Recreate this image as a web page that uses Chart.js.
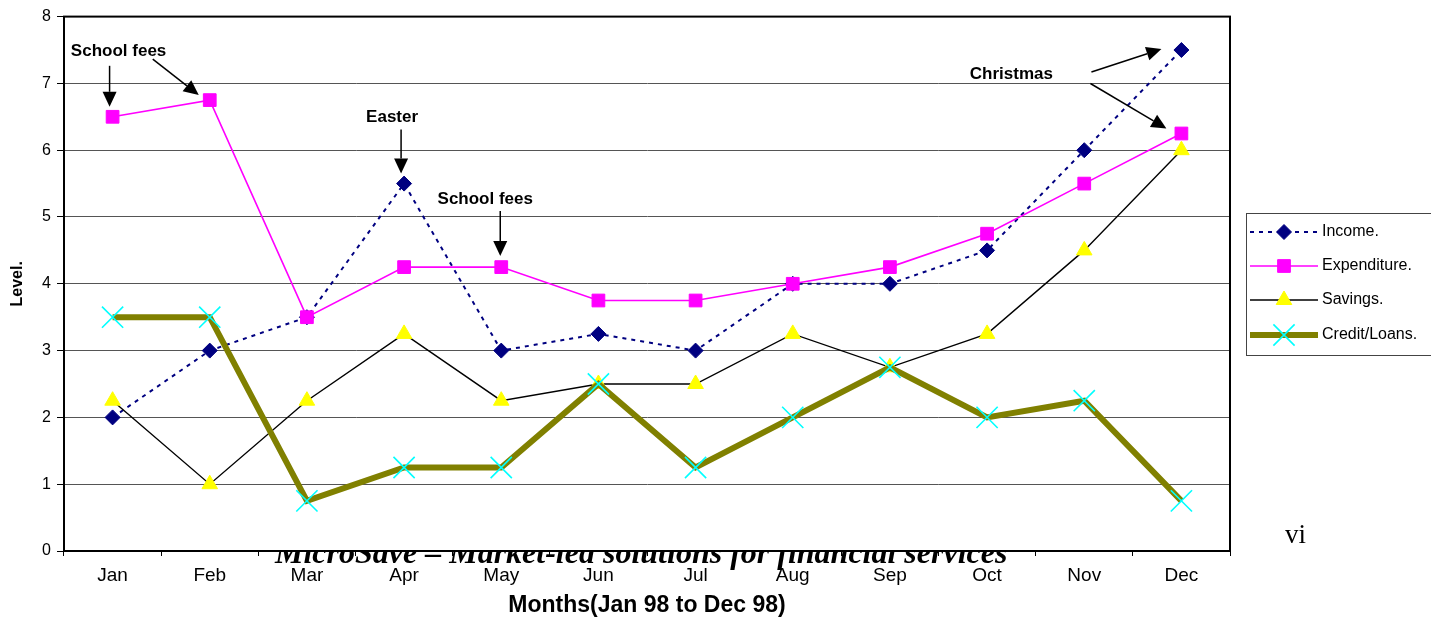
<!DOCTYPE html>
<html>
<head>
<meta charset="utf-8">
<script src="https://cdn.jsdelivr.net/npm/chart.js@4/dist/chart.umd.min.js"></script>
<style>
  html, body { margin: 0; padding: 0; background: #fff; }
  #wrap { width: 1431px; height: 621px; position: relative; }
</style>
</head>
<body>
<div id="wrap"><canvas id="c" width="1431" height="621"></canvas></div>
<script>
// Monthly household cash-flow levels, Jan 98 – Dec 98
const months = ['Jan', 'Feb', 'Mar', 'Apr', 'May', 'Jun', 'Jul', 'Aug', 'Sep', 'Oct', 'Nov', 'Dec'];
const income      = [2, 3, 3.5, 5.5, 3, 3.25, 3, 4, 4, 4.5, 6, 7.5];
const expenditure = [6.5, 6.75, 3.5, 4.25, 4.25, 3.75, 3.75, 4, 4.25, 4.75, 5.5, 6.25];
const savings     = [2.25, 1, 2.25, 3.25, 2.25, 2.5, 2.5, 3.25, 2.75, 3.25, 4.5, 6];
const credit      = [3.5, 3.5, 0.75, 1.25, 1.25, 2.5, 1.25, 2, 2.75, 2, 2.25, 0.75];
const seriesNames = ['Income.', 'Expenditure.', 'Savings.', 'Credit/Loans.'];
const yMin = 0, yMax = 8, yStep = 1;
const xTitle = 'Months(Jan 98 to Dec 98)';
const yTitle = 'Level.';
const footerText = 'MicroSave \u2013 Market-led solutions for financial services';
const pageNumber = 'vi';

// Event notes: each arrow points at one series value (dataset index, month index)
const notes = [
  { text: 'School fees', anchor: [1, 0], label: [6, -65],
    arrows: [ { ds: 1, m: 0, tip: [-3, -10], tail: [-3, -51] },
              { ds: 1, m: 1, tip: [-11, -5], tail: [-57, -41] } ] },
  { text: 'Easter', anchor: [0, 3], label: [-12, -66],
    arrows: [ { ds: 0, m: 3, tip: [-3, -10], tail: [-3, -54] } ] },
  { text: 'School fees', anchor: [1, 4], label: [-16, -68],
    arrows: [ { ds: 1, m: 4, tip: [-1, -11], tail: [-1, -56] } ] },
  { text: 'Christmas', anchor: [0, 11], label: [-170, 24],
    arrows: [ { ds: 0, m: 11, tip: [-20, -1], tail: [-90, 22] },
              { ds: 1, m: 11, tip: [-15, -5], tail: [-91, -50] } ] }
];

const SANS = "'Liberation Sans', Arial, sans-serif";
const SERIF = "'Liberation Serif', 'Times New Roman', serif";
Chart.defaults.font.family = SANS;
Chart.defaults.color = '#000';

const series = [
  { data: income, line: '#000080', width: 2, dash: [4, 5], point: 'rectRot', radius: 7.5, fill: '#000080', stroke: '#000080', pw: 1 },
  { data: expenditure, line: '#FF00FF', width: 1.6, dash: [], point: 'rect', radius: 9, fill: '#FF00FF', stroke: '#FF00FF', pw: 1 },
  { data: savings, line: '#000000', width: 1.4, dash: [], point: 'triangle', radius: 9, fill: '#FFFF00', stroke: '#FFFF00', pw: 1 },
  { data: credit, line: '#808000', width: 6, dash: [], point: 'crossRot', radius: 15, fill: '#00FFFF', stroke: '#00FFFF', pw: 1.6 }
];

function yValue(ds, m) {
  return [income, expenditure, savings, credit][ds][m];
}

// Plot frame, notes, legend and page footer
const decorations = {
  id: 'decorations',
  afterDraw(chart) {
    const { ctx, chartArea: a, scales: { x, y } } = chart;
    ctx.save();

    // frame around the plot
    ctx.strokeStyle = '#000';
    ctx.lineWidth = 2;
    ctx.strokeRect(a.left, a.top, a.right - a.left, a.bottom - a.top);

    // notes with arrows
    ctx.font = 'bold 17px ' + SANS;
    ctx.textAlign = 'center';
    ctx.textBaseline = 'middle';
    notes.forEach(n => {
      const ax = x.getPixelForValue(n.anchor[1]);
      const ay = y.getPixelForValue(yValue(n.anchor[0], n.anchor[1]));
      ctx.fillStyle = '#000';
      ctx.fillText(n.text, ax + n.label[0], ay + n.label[1]);
      n.arrows.forEach(r => {
        const px = x.getPixelForValue(r.m);
        const py = y.getPixelForValue(yValue(r.ds, r.m));
        const tx = px + r.tip[0], ty = py + r.tip[1];
        const sx = px + r.tail[0], sy = py + r.tail[1];
        const ang = Math.atan2(ty - sy, tx - sx);
        const hl = 15, hw = 7;
        const bx = tx - hl * Math.cos(ang), by = ty - hl * Math.sin(ang);
        ctx.strokeStyle = '#000';
        ctx.lineWidth = 1.5;
        ctx.beginPath();
        ctx.moveTo(sx, sy);
        ctx.lineTo(bx, by);
        ctx.stroke();
        ctx.beginPath();
        ctx.moveTo(tx, ty);
        ctx.lineTo(bx - hw * Math.sin(ang), by + hw * Math.cos(ang));
        ctx.lineTo(bx + hw * Math.sin(ang), by - hw * Math.cos(ang));
        ctx.closePath();
        ctx.fillStyle = '#000';
        ctx.fill();
      });
    });

    // legend box
    const lx = 1246.5, ly = 213.5, lw = 200, lh = 142;
    ctx.strokeStyle = '#444';
    ctx.lineWidth = 1;
    ctx.strokeRect(lx, ly, lw, lh);
    const rows = [232, 266, 300, 335];
    ctx.font = '16px ' + SANS;
    ctx.textAlign = 'left';
    ctx.textBaseline = 'middle';
    series.forEach((s, i) => {
      const yy = rows[i];
      ctx.save();
      ctx.strokeStyle = s.line;
      ctx.lineWidth = s.width;
      ctx.setLineDash(s.dash);
      ctx.beginPath();
      ctx.moveTo(1250, yy);
      ctx.lineTo(1318, yy);
      ctx.stroke();
      ctx.restore();
      ctx.save();
      ctx.fillStyle = s.fill;
      ctx.strokeStyle = s.stroke;
      ctx.lineWidth = s.pw;
      Chart.helpers.drawPoint(ctx, { pointStyle: s.point, radius: s.radius, rotation: 0, borderWidth: s.pw }, 1284, yy);
      ctx.restore();
      ctx.fillStyle = '#000';
      ctx.fillText(seriesNames[i], 1322, yy);
    });

    // footer line of the page, partly hidden beneath the plot
    ctx.save();
    ctx.beginPath();
    ctx.rect(0, a.bottom + 1, chart.width, chart.height - a.bottom - 1);
    ctx.clip();
    let fs = 28;
    ctx.font = 'italic bold ' + fs + 'px ' + SERIF;
    fs = fs * 732 / ctx.measureText(footerText).width;
    ctx.font = 'italic bold ' + fs.toFixed(1) + 'px ' + SERIF;
    ctx.textAlign = 'left';
    ctx.textBaseline = 'alphabetic';
    ctx.fillStyle = '#000';
    ctx.fillText(footerText, 275, 563);
    ctx.restore();

    ctx.font = '27px ' + SERIF;
    ctx.textAlign = 'left';
    ctx.textBaseline = 'alphabetic';
    ctx.fillStyle = '#000';
    ctx.fillText(pageNumber, 1285, 543);

    ctx.restore();
  }
};

new Chart(document.getElementById('c'), {
  type: 'line',
  data: {
    labels: months,
    datasets: series.map((s, i) => ({
      label: seriesNames[i],
      data: s.data,
      borderColor: s.line,
      borderWidth: s.width,
      borderDash: s.dash,
      pointStyle: s.point,
      pointRadius: s.radius,
      pointHoverRadius: s.radius,
      pointBackgroundColor: s.fill,
      pointBorderColor: s.stroke,
      pointBorderWidth: s.pw,
      tension: 0,
      fill: false,
      order: 4 - i,
      clip: false
    }))
  },
  options: {
    responsive: false,
    animation: false,
    devicePixelRatio: 1,
    layout: { padding: { top: 14, right: 201, left: 0, bottom: 0 } },
    plugins: { legend: { display: false }, tooltip: { enabled: false } },
    scales: {
      x: {
        type: 'category',
        offset: true,
        grid: { display: true, drawOnChartArea: false, drawTicks: true, tickLength: 5, color: '#000', offset: true, lineWidth: 1 },
        border: { display: true, color: '#000', width: 2 },
        ticks: { color: '#000', font: { family: SANS, size: 19 }, padding: 8, maxRotation: 0, autoSkip: false },
        title: { display: true, text: xTitle, color: '#000', font: { family: SANS, size: 23, weight: 'bold' }, padding: { top: 0, bottom: 2 } },
        afterFit(s) { s.height = 70; }
      },
      y: {
        min: yMin, max: yMax,
        ticks: { stepSize: yStep, color: '#000', font: { family: SANS, size: 16 }, padding: 6 },
        grid: { color: '#555', tickColor: '#000', tickLength: 7, lineWidth: 1 },
        border: { display: true, color: '#000', width: 2 },
        title: { display: true, text: yTitle, color: '#000', font: { family: SANS, size: 16, weight: 'bold' }, padding: { top: 8, bottom: 0 } },
        afterFit(s) { s.width = 64; }
      }
    }
  },
  plugins: [decorations]
});
</script>
</body>
</html>
